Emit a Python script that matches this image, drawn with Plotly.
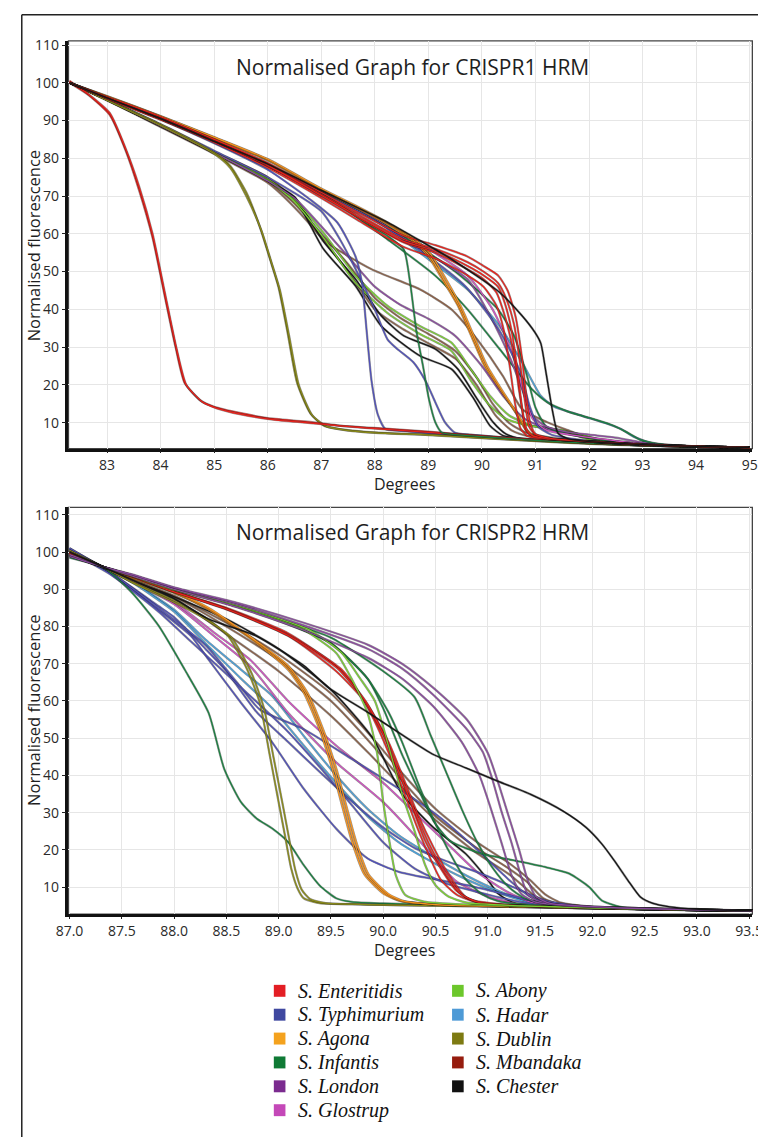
import plotly.graph_objects as go

# Reference canvas is 766x1137. The page places the figure 8px in from the
# top-left corner, so all reference pixel positions are shifted by OFF below.
OFF = 8
FW, FH = 766, 1137

# ---------------- species / colours ----------------
SPECIES = ["S. Enteritidis", "S. Typhimurium", "S. Agona", "S. Infantis", "S. London",
           "S. Glostrup", "S. Abony", "S. Hadar", "S. Dublin", "S. Mbandaka", "S. Chester"]
LEGEND_COLORS = {
    "S. Enteritidis": "#e31e24", "S. Typhimurium": "#3f48a0", "S. Agona": "#f4a21e",
    "S. Infantis": "#0f7a35", "S. London": "#7b2b8f", "S. Glostrup": "#c448b8",
    "S. Abony": "#6cc72b", "S. Hadar": "#4e9ad6", "S. Dublin": "#7d7a12",
    "S. Mbandaka": "#961c0e", "S. Chester": "#111111",
}
LINE_COLORS = {
    "S. Enteritidis": "#e8221c", "S. Typhimurium": "#5050b8", "S. Agona": "#f7931e",
    "S. Infantis": "#1a8040", "S. London": "#8a4a9e", "S. Glostrup": "#d050c0",
    "S. Abony": "#7ad032", "S. Hadar": "#4aa0d8", "S. Dublin": "#8a8a18",
    "S. Mbandaka": "#8a6048", "S. Chester": "#151515",
}
LEGEND_COL1 = ["S. Enteritidis", "S. Typhimurium", "S. Agona", "S. Infantis", "S. London", "S. Glostrup"]
LEGEND_COL2 = ["S. Abony", "S. Hadar", "S. Dublin", "S. Mbandaka", "S. Chester"]

# ---------------- panel 1 : CRISPR1 ----------------
P1_TITLE = "Normalised Graph for CRISPR1 HRM"
P1_XTICKS = [83, 84, 85, 86, 87, 88, 89, 90, 91, 92, 93, 94, 95]
P1_YTICKS = [10, 20, 30, 40, 50, 60, 70, 80, 90, 100, 110]

P1_ENT_EARLY_A = [(82.3,100),(82.65,96.8),(83.05,91.5),(83.35,82),(83.6,71.5),(83.85,59),(84.1,42),(84.28,30),(84.45,20.5),(84.75,15.8),(85.0,14.2),(85.5,12.5),(86.0,11.2),(86.7,10.3),(87.3,9.3),(88.2,8.4),(89.0,7.6),(90.0,6.5),(91.0,5.5),(92.0,4.7),(93.0,4.1),(94.0,3.7),(95.0,3.4)]
P1_ENT_EARLY_B = [(82.3,100.5),(82.65,97),(83.05,92),(83.35,82.5),(83.6,72.5),(83.85,60),(84.1,43),(84.3,29.5),(84.48,20),(84.78,15.5),(85.05,13.8),(85.5,12.2),(86.1,10.8),(86.7,10),(87.3,9.2),(88.2,8.2),(89.0,7.4),(90.0,6.4),(91.0,5.4),(92.0,4.6),(93.0,4.0),(94.0,3.7),(95.0,3.4)]
P1_DUB_A = [(82.3,100),(83.0,95.5),(84.0,89),(85.0,81.5),(85.3,78),(85.6,71),(85.85,62),(86.05,53),(86.2,46),(86.37,34),(86.55,20.5),(86.8,12.4),(87.05,9.2),(87.5,8.0),(88.0,7.4),(89.0,6.8),(90.0,6.0),(91.0,5.2),(92.0,4.5),(93.0,4.0),(94.0,3.6),(95.0,3.4)]
P1_DUB_B = [(82.3,100),(83.0,95.3),(84.0,88.7),(85.0,81.2),(85.3,77.5),(85.6,70),(85.88,61),(86.08,52),(86.23,45),(86.4,33),(86.58,20),(86.83,12),(87.1,9),(87.5,7.9),(88.0,7.3),(89.0,6.7),(90.0,5.9),(91.0,5.1),(92.0,4.4),(93.0,3.9),(94.0,3.6),(95.0,3.4)]
P1_TYP_A = [(82.3,100),(83.0,96),(84.0,90.3),(85.0,84),(86.0,77),(86.8,69),(87.3,63),(87.64,54),(87.76,47),(87.85,34),(87.94,21),(88.06,12),(88.2,8.3),(88.5,7.8),(89.0,7.2),(90.0,6.2),(91.0,5.3),(92.0,4.6),(93.0,4.0),(94.0,3.6),(95.0,3.4)]
P1_TYP_B = [(82.3,100),(83.0,95.5),(84.0,89),(85.0,82),(86.0,75),(87.0,66),(87.35,58.5),(87.7,49),(88.0,40),(88.24,32),(88.42,29.5),(88.72,26),(88.96,20.7),(89.13,15.4),(89.31,10.1),(89.49,7.4),(89.8,6.8),(90.5,6.0),(91.5,5.0),(92.5,4.3),(93.5,3.8),(95.0,3.4)]
P1_TYP_C = [(82.3,100),(83.0,96),(84.0,90.5),(85.0,84.5),(86.0,78),(87.0,71),(88.0,63.5),(89.0,54),(89.7,46),(90.3,35),(90.7,24),(90.9,14),(91.05,9),(91.3,6.8),(92.0,5.2),(93.0,4.2),(94.0,3.7),(95.0,3.4)]
P1_INF_STEEP = [(82.3,100),(83.0,96),(84.0,90.5),(85.0,84.5),(86.0,78),(87.0,70.5),(87.94,62),(88.24,59.4),(88.54,55.9),(88.66,47),(88.78,34),(88.9,25),(89.01,16.3),(89.13,10.1),(89.25,7.4),(89.5,6.8),(90.0,6.3),(91.0,5.3),(92.0,4.6),(93.0,4.0),(94.0,3.6),(95.0,3.4)]
P1_AGO_A = [(82.3,100),(83.0,96.3),(84.0,91),(85.0,85.3),(86.0,79.5),(87.0,71.5),(87.64,67),(88.24,62.5),(88.72,58),(89.0,54),(89.3,47),(89.55,41),(89.8,33),(90.05,25),(90.33,19),(90.63,12.7),(90.81,8.3),(90.93,6.6),(91.2,5.8),(92.0,5.0),(93.0,4.2),(94.0,3.7),(95.0,3.4)]
P1_AGO_B = [(82.3,100),(83.0,96.5),(84.0,91.2),(85.0,85.6),(86.0,79.8),(87.0,72),(87.64,67.5),(88.24,63),(88.75,58.5),(89.05,54.5),(89.35,47.5),(89.6,41),(89.85,33),(90.1,25),(90.38,18.5),(90.68,12),(90.85,8),(90.97,6.5),(91.2,5.8),(92.0,5.0),(93.0,4.2),(94.0,3.7),(95.0,3.4)]
P1_AGO_C = [(82.3,100),(83.0,96.4),(84.0,91.1),(85.0,85.5),(86.0,79.6),(87.0,71.8),(87.64,67.2),(88.24,62.8),(88.73,58.2),(89.02,54.2),(89.32,47.2),(89.57,41),(89.82,33),(90.07,25),(90.35,18.7),(90.65,12.3),(90.83,8.1),(90.95,6.5),(91.2,5.8),(92.0,5.0),(93.0,4.2),(94.0,3.7),(95.0,3.4)]
P1_ENT_A = [(82.3,100),(83.0,96),(84.0,90.5),(85.0,84.5),(86.0,78),(87.0,70),(87.64,64.7),(88.54,57.7),(89.13,55),(89.73,50.6),(90.03,48),(90.27,44.5),(90.39,40),(90.51,33.9),(90.63,25.1),(90.69,18.9),(90.75,13.6),(90.81,8.3),(90.9,6.8),(91.2,5.8),(92.0,5.0),(93.0,4.2),(94.0,3.7),(95.0,3.4)]
P1_ENT_B = [(82.3,100),(83.0,96.2),(84.0,90.8),(85.0,84.8),(86.0,78.5),(87.0,70.5),(87.64,65.5),(88.54,58.5),(89.13,56),(89.73,52.5),(90.03,50),(90.3,47),(90.45,43),(90.6,36),(90.72,25),(90.8,16),(90.88,9),(91.0,6.8),(91.3,5.7),(92.0,5.0),(93.0,4.2),(94.0,3.7),(95.0,3.4)]
P1_ENT_C = [(82.3,100),(83.0,95.8),(84.0,90.2),(85.0,84.2),(86.0,77.5),(87.0,69.5),(87.64,64),(88.54,56.5),(89.13,53.5),(89.73,49),(90.03,46),(90.27,41),(90.4,35),(90.52,25),(90.62,15),(90.72,8.5),(90.85,6.5),(91.2,5.7),(92.0,5.0),(93.0,4.2),(94.0,3.7),(95.0,3.4)]
P1_ENT_D = [(82.3,100),(83.0,96.1),(84.0,90.6),(85.0,84.6),(86.0,78.2),(87.0,70.2),(87.64,65),(88.54,58),(89.13,55.5),(89.73,51.5),(90.03,49),(90.3,46),(90.42,42),(90.56,34),(90.68,22),(90.76,13),(90.84,8),(90.95,6.5),(91.3,5.7),(92.0,5.0),(93.0,4.2),(94.0,3.7),(95.0,3.4)]
P1_ENT_E = [(82.3,100),(83.0,96.3),(84.0,91),(85.0,85),(86.0,78.8),(87.0,71),(87.64,66),(88.54,59.5),(89.13,57),(89.73,54),(90.03,51.5),(90.3,49),(90.48,45),(90.63,38),(90.75,27),(90.83,17),(90.9,10),(91.0,7),(91.3,5.8),(92.0,5.0),(93.0,4.2),(94.0,3.7),(95.0,3.4)]
P1_CHE_A = [(82.3,100),(83.0,96),(84.0,90.5),(85.0,84.5),(86.0,78.5),(87.0,71.5),(88.24,63),(89.43,53.3),(90.33,44.5),(90.75,38.3),(90.99,33.9),(91.1,31),(91.2,23),(91.32,13),(91.42,7.2),(91.6,5.8),(92.0,5.0),(93.0,4.2),(94.0,3.7),(95.0,3.4)]
P1_CHE_B = [(82.3,100),(83.0,95.5),(84.0,88.5),(85.0,81.5),(86.0,74),(86.5,69.5),(87.04,56),(87.64,46.2),(88.12,35.6),(88.84,27.7),(89.43,24.2),(89.85,16.3),(90.15,9.2),(90.39,6.6),(90.7,5.8),(91.2,5.3),(92.0,4.6),(93.0,4.0),(94.0,3.6),(95.0,3.4)]
P1_CHE_C = [(82.3,100),(83.0,95.5),(84.0,88.6),(85.0,81.6),(86.0,74.2),(86.5,69.8),(87.04,58),(87.64,48),(88.12,38.3),(88.54,33),(89.13,29.5),(89.55,24.2),(89.91,16.3),(90.21,10.1),(90.45,7),(90.75,5.7),(91.2,5.3),(92.0,4.6),(93.0,4.0),(94.0,3.6),(95.0,3.4)]
P1_MBA_A = [(82.3,100),(83.0,95.6),(84.0,88.8),(85.0,81.8),(86.0,75),(86.5,69),(87.04,58.5),(87.94,50.6),(88.84,45.3),(89.43,40),(89.91,32.1),(90.39,22.4),(90.75,13.6),(91.22,10.1),(91.6,8),(92.0,6),(92.5,5),(93.0,4.3),(94.0,3.7),(95.0,3.4)]
P1_MBA_B = [(82.3,100),(83.0,95.5),(84.0,88.5),(85.0,81.5),(86.0,74),(86.5,68),(87.0,60),(87.5,52),(88.0,43),(88.5,37.5),(89.0,33.5),(89.5,29),(89.9,22),(90.2,15),(90.5,10),(90.8,7.5),(91.3,6),(92.0,5),(93.0,4.2),(94.0,3.6),(95.0,3.4)]
P1_MBA_C = [(82.3,100),(83.0,95.4),(84.0,88.3),(85.0,81.2),(86.0,73.5),(86.5,67),(87.0,59),(87.5,50),(88.0,40),(88.5,35),(89.0,31),(89.5,27),(89.9,20),(90.25,12),(90.55,8),(90.9,6.3),(92.0,4.8),(93.0,4.1),(94.0,3.6),(95.0,3.4)]
P1_ABO_A = [(82.3,100),(83.0,95.5),(84.0,88.7),(85.0,81.7),(86.0,74.5),(86.5,69),(87.04,60.3),(87.64,48.9),(88.24,40.9),(88.84,35.6),(89.43,31.2),(89.79,24.2),(90.15,17.1),(90.51,11.9),(90.93,9.2),(91.34,8.3),(91.8,7),(92.2,5.5),(93.0,4.3),(94.0,3.7),(95.0,3.4)]
P1_ABO_B = [(82.3,100),(83.0,95.5),(84.0,88.6),(85.0,81.5),(86.0,74.2),(86.5,68.5),(87.04,59),(87.64,47),(88.24,39),(88.84,33.5),(89.43,29),(89.8,21),(90.15,14.5),(90.45,11),(90.96,9),(91.5,8),(92.0,5.5),(93.0,4.3),(94.0,3.7),(95.0,3.4)]
P1_HAD = [(82.3,100),(83.0,96),(84.0,90.5),(85.0,84.5),(86.0,78),(87.0,71.5),(88.0,64),(88.84,55),(89.73,45.3),(90.33,35.6),(90.75,26),(91.1,17.1),(91.34,14.3),(91.87,11.8),(92.34,9.7),(92.6,8.3),(92.83,6.3),(93.2,4.5),(94.0,3.7),(95.0,3.4)]
P1_INF_A = [(82.3,100),(83.0,96),(84.0,90.5),(85.0,84.5),(86.0,78),(87.0,71),(88.24,58.5),(89.13,48.9),(89.73,40),(90.33,29.5),(90.93,18.9),(91.22,15.4),(91.6,13),(92.0,11.3),(92.4,9.5),(92.7,7.5),(92.95,5.5),(93.3,4.4),(94.0,3.7),(95.0,3.4)]
P1_INF_B = [(82.3,100),(83.0,96),(84.0,90.6),(85.0,84.6),(86.0,78.2),(87.0,71.5),(88.0,64),(89.0,55),(89.5,50),(90.0,44),(90.3,40),(90.6,33),(90.85,22),(91.0,14),(91.2,9),(91.6,7),(92.2,5.5),(93.0,4.3),(94.0,3.7),(95.0,3.4)]
P1_LON_A = [(82.3,100),(83.0,96),(84.0,90.5),(85.0,84.5),(86.0,78),(87.0,71.5),(88.0,64),(88.84,56),(89.73,48),(90.15,38.3),(90.51,27.7),(90.75,18.9),(90.93,11.9),(91.2,9),(91.6,7.5),(92.0,6.8),(92.5,6),(92.9,5),(93.2,4.3),(94.0,3.7),(95.0,3.4)]
P1_LON_B = [(82.3,100),(83.0,95.5),(84.0,88.6),(85.0,81.5),(86.0,74),(86.5,69.5),(87.0,62),(87.5,54),(88.0,46),(88.5,41),(89.0,37.5),(89.5,33),(90.0,25),(90.4,17),(90.8,11),(91.3,8),(92.0,6),(93.0,4.3),(94.0,3.7),(95.0,3.4)]
P1_GLO = [(82.3,100),(83.0,96),(84.0,90.5),(85.0,84.5),(86.0,78),(87.0,71.5),(88.0,64.5),(89.0,56),(89.73,49),(90.2,40),(90.55,29),(90.78,18),(90.95,11),(91.2,8),(91.8,6.5),(92.5,5.2),(93.0,4.4),(94.0,3.7),(95.0,3.4)]

P1_CURVES = [
    ("S. Mbandaka", P1_MBA_A), ("S. Mbandaka", P1_MBA_B), ("S. Mbandaka", P1_MBA_C),
    ("S. Chester", P1_CHE_B), ("S. Chester", P1_CHE_C),
    ("S. Abony", P1_ABO_A), ("S. Abony", P1_ABO_B), ("S. London", P1_LON_B),
    ("S. Typhimurium", P1_TYP_B), ("S. Typhimurium", P1_TYP_A),
    ("S. Dublin", P1_DUB_A), ("S. Dublin", P1_DUB_B),
    ("S. Enteritidis", P1_ENT_EARLY_A), ("S. Enteritidis", P1_ENT_EARLY_B),
    ("S. Infantis", P1_INF_STEEP), ("S. Hadar", P1_HAD),
    ("S. Infantis", P1_INF_A), ("S. Infantis", P1_INF_B),
    ("S. London", P1_LON_A), ("S. Glostrup", P1_GLO), ("S. Typhimurium", P1_TYP_C),
    ("S. Agona", P1_AGO_A), ("S. Agona", P1_AGO_C), ("S. Agona", P1_AGO_B),
    ("S. Enteritidis", P1_ENT_A), ("S. Enteritidis", P1_ENT_B), ("S. Enteritidis", P1_ENT_C),
    ("S. Enteritidis", P1_ENT_D), ("S. Enteritidis", P1_ENT_E),
    ("S. Chester", P1_CHE_A),
]

# ---------------- panel 2 : CRISPR2 ----------------
P2_TITLE = "Normalised Graph for CRISPR2 HRM"
P2_XTICKS = [87.0, 87.5, 88.0, 88.5, 89.0, 89.5, 90.0, 90.5, 91.0, 91.5, 92.0, 92.5, 93.0, 93.5]
P2_YTICKS = [10, 20, 30, 40, 50, 60, 70, 80, 90, 100, 110]

P2_INF_EARLY = [(87.0,98.5),(87.2,97),(87.36,95.2),(87.6,89),(87.85,80.3),(88.1,68.5),(88.33,56.8),(88.48,41.7),(88.64,32.8),(88.79,28.4),(88.94,25.7),(89.09,22.1),(89.24,15.9),(89.39,10.5),(89.55,7.0),(89.7,6.0),(90.0,5.6),(90.5,5.3),(91.0,5.0),(91.5,4.6),(92.0,4.3),(92.5,4.0),(93.0,3.8),(93.6,3.6)]
P2_DUB_A = [(87.0,100.5),(87.32,96),(87.6,92),(88.0,87),(88.33,81.8),(88.52,77.3),(88.7,68.4),(88.82,59.5),(88.91,46.2),(89.0,32.8),(89.06,23.9),(89.12,15),(89.18,9.7),(89.24,7.0),(89.39,5.7),(89.7,5.4),(90.0,5.2),(90.5,5.0),(91.0,4.8),(92.0,4.3),(93.0,3.8),(93.6,3.6)]
P2_DUB_B = [(87.0,100),(87.32,96),(87.6,91.8),(88.0,86.5),(88.33,81.5),(88.55,77),(88.74,67.5),(88.86,58),(88.95,45),(89.04,32),(89.1,23),(89.16,14.5),(89.22,9.3),(89.3,6.8),(89.45,5.7),(89.7,5.4),(90.0,5.2),(90.5,5.0),(91.0,4.8),(92.0,4.3),(93.0,3.8),(93.6,3.6)]
P2_TYP_A = [(87.0,101),(87.39,94.3),(87.85,84.5),(88.16,77.5),(88.33,71.1),(88.64,59.5),(88.94,48.8),(89.24,36.4),(89.55,25.7),(89.85,17.7),(90.15,14.1),(90.45,12.3),(90.8,10.5),(91.1,8.5),(91.4,6.5),(91.7,5.0),(92.2,4.3),(93.0,3.8),(93.6,3.6)]
P2_TYP_B = [(87.0,100.5),(87.39,94.5),(87.85,85.5),(88.0,82.5),(88.3,74),(88.5,68),(88.79,57),(89.09,49),(89.39,41),(89.7,33),(90.0,26),(90.3,20.5),(90.6,17),(90.9,14),(91.2,10.5),(91.45,7.5),(91.6,6),(92.0,4.6),(93.0,3.8),(93.6,3.6)]
P2_TYP_C = [(87.0,101),(87.39,94.5),(87.85,85),(88.3,75),(88.6,65),(88.82,57.7),(89.24,52.4),(89.7,44.4),(90.15,36.4),(90.52,29.2),(90.9,20),(91.2,12),(91.4,7.5),(91.6,5.5),(92.0,4.5),(93.0,3.8),(93.6,3.6)]
P2_TYP_D = [(87.0,100),(87.39,94),(87.85,84),(88.16,76),(88.47,68),(88.78,60),(89.08,52),(89.4,42),(89.7,32),(90.0,22),(90.3,15),(90.6,11),(91.0,8),(91.3,6),(91.6,4.8),(92.0,4.4),(93.0,3.8),(93.6,3.6)]
P2_AGO_A = [(87.0,99.5),(87.32,96),(87.6,93),(88.0,89),(88.33,84.5),(88.79,75.5),(89.09,68.4),(89.24,62.2),(89.39,52.4),(89.52,41),(89.61,31.5),(89.7,22.3),(89.82,13.4),(90.01,8.1),(90.17,6.2),(90.5,5.3),(91.0,4.9),(92.0,4.3),(93.0,3.8),(93.6,3.6)]
P2_AGO_B = [(87.0,100),(87.32,96),(87.6,93.2),(88.0,89.3),(88.33,85),(88.79,76),(89.09,69.5),(89.28,62),(89.43,52),(89.56,41),(89.65,31.5),(89.74,22.3),(89.86,13.4),(90.05,8.1),(90.2,6.2),(90.5,5.3),(91.0,4.9),(92.0,4.3),(93.0,3.8),(93.6,3.6)]
P2_AGO_C = [(87.0,99.8),(87.32,96),(87.6,93.1),(88.0,89.1),(88.33,84.7),(88.79,75.8),(89.09,69),(89.26,62.1),(89.41,52.2),(89.54,41),(89.63,31.5),(89.72,22.3),(89.84,13.4),(90.03,8.1),(90.18,6.2),(90.5,5.3),(91.0,4.9),(92.0,4.3),(93.0,3.8),(93.6,3.6)]
P2_ABO_A = [(87.0,99),(87.32,96),(87.6,93.5),(88.0,89.8),(88.5,86.2),(89.0,81.8),(89.24,79.1),(89.55,72.9),(89.7,65.8),(89.85,56.8),(89.94,46.2),(90.0,32.8),(90.06,22.1),(90.12,13.2),(90.21,7.9),(90.39,6.1),(90.8,5.3),(91.5,4.8),(92.5,4.1),(93.6,3.6)]
P2_ABO_B = [(87.0,99.2),(87.32,96),(87.6,93.6),(88.0,90),(88.5,86.5),(89.0,82.2),(89.3,79),(89.6,73),(89.78,66),(89.92,60),(90.05,48),(90.18,35),(90.3,25),(90.4,16),(90.5,10.5),(90.62,7.5),(90.8,5.8),(91.5,4.8),(92.5,4.1),(93.6,3.6)]
P2_ENT_A = [(87.0,99.5),(87.32,96),(87.6,93.5),(88.0,89.5),(88.5,85),(89.09,78.2),(89.55,69.3),(89.79,61.3),(89.94,53.3),(90.09,43.5),(90.21,34.6),(90.33,25.7),(90.45,17.7),(90.55,12),(90.7,8),(90.9,5.8),(91.3,5.0),(92.0,4.4),(93.0,3.8),(93.6,3.6)]
P2_ENT_B = [(87.0,99.7),(87.32,96),(87.6,93.4),(88.0,89.3),(88.5,84.6),(89.09,77.5),(89.55,68),(89.85,59),(90.05,49),(90.18,40.2),(90.33,29.6),(90.48,20.7),(90.64,12.7),(90.79,7.3),(90.95,5.6),(91.3,5.0),(92.0,4.4),(93.0,3.8),(93.6,3.6)]
P2_ENT_C = [(87.0,99.6),(87.32,96),(87.6,93.5),(88.0,89.4),(88.5,84.8),(89.09,77.8),(89.6,68.5),(89.82,60),(90.0,51),(90.13,42),(90.27,32),(90.4,22.5),(90.55,15),(90.7,9),(90.85,6.5),(91.3,5.0),(92.0,4.4),(93.0,3.8),(93.6,3.6)]
P2_ENT_D = [(87.0,99.5),(87.32,96),(87.6,93.4),(88.0,89.3),(88.5,84.7),(89.09,77.6),(89.57,68.6),(89.83,60),(90.02,50),(90.15,41),(90.3,30.5),(90.44,21.5),(90.6,13.5),(90.75,8),(90.92,5.8),(91.3,5.0),(92.0,4.4),(93.0,3.8),(93.6,3.6)]
P2_LON_A = [(87.0,99),(87.32,96),(87.6,93.8),(88.0,90.3),(88.62,85.8),(89.24,80.3),(89.86,73.9),(90.18,68.7),(90.48,61.6),(90.79,52.7),(90.95,46.4),(91.04,39.3),(91.13,30.4),(91.23,21.6),(91.32,12.7),(91.38,8.2),(91.47,6.4),(91.7,5.2),(92.2,4.5),(93.0,3.9),(93.6,3.6)]
P2_LON_B = [(87.0,99.3),(87.32,96),(87.6,93.6),(88.0,90),(88.62,85),(89.24,79),(89.86,71.5),(90.18,66),(90.48,58.5),(90.75,49),(90.92,40),(91.03,31),(91.13,22),(91.23,13),(91.32,8.2),(91.45,6),(91.7,5.1),(92.2,4.5),(93.0,3.9),(93.6,3.6)]
P2_LON_C = [(87.0,98.8),(87.32,96),(87.6,94),(88.0,90.5),(88.62,86.2),(89.24,81),(89.86,75),(90.18,70),(90.48,63.5),(90.8,55),(91.0,46),(91.1,38),(91.2,29),(91.3,20),(91.38,12),(91.46,7.5),(91.6,5.6),(92.2,4.5),(93.0,3.9),(93.6,3.6)]
P2_CHE_A = [(87.0,100),(87.32,96),(87.6,92.5),(88.0,87.5),(88.33,82),(88.78,77.5),(89.24,69.5),(89.48,63.5),(89.85,57),(90.18,50.9),(90.48,45.6),(90.79,42),(91.1,38.4),(91.41,34.9),(91.72,30.4),(91.94,26),(92.09,21.6),(92.21,17.1),(92.34,11.8),(92.46,7.3),(92.58,5.6),(92.74,4.7),(93.0,4.1),(93.6,3.6)]
P2_CHE_B = [(87.0,100),(87.32,96),(87.6,92.3),(88.0,88),(88.5,82),(89.0,74),(89.5,63),(89.9,50),(90.18,35),(90.48,26),(90.79,18.9),(90.98,12.7),(91.1,8.2),(91.26,5.6),(91.6,4.7),(92.5,4.1),(93.6,3.6)]
P2_MBA_A = [(87.0,100),(87.32,96),(87.6,92.5),(88.0,88),(88.5,80),(89.0,71),(89.5,60),(89.9,48),(90.2,38),(90.5,29),(90.9,20.4),(91.2,15),(91.37,11.5),(91.53,7),(91.7,5.4),(92.0,4.6),(93.0,3.9),(93.6,3.6)]
P2_MBA_B = [(87.0,100.2),(87.32,96),(87.6,92.6),(88.0,88.3),(88.5,81),(89.0,72.5),(89.5,62),(89.9,50),(90.2,40),(90.5,31),(90.9,22),(91.2,16.5),(91.4,12),(91.55,8),(91.7,5.8),(92.0,4.7),(93.0,3.9),(93.6,3.6)]
P2_MBA_C = [(87.0,100.4),(87.32,96),(87.6,92.2),(88.0,87.5),(88.5,78),(89.0,68),(89.5,56),(89.86,46),(90.17,37),(90.5,28),(90.9,19),(91.2,13.5),(91.35,10),(91.5,6.5),(91.7,5.2),(92.0,4.6),(93.0,3.9),(93.6,3.6)]
P2_INF_B = [(87.0,99),(87.32,96),(87.6,93.7),(88.0,90.2),(88.5,86.3),(89.0,81.8),(89.5,75.5),(89.85,66),(90.0,58),(90.18,45.6),(90.33,36.7),(90.48,27.8),(90.64,22.4),(90.95,18.9),(91.26,17.1),(91.56,15.3),(91.78,13.6),(91.97,10),(92.09,6.4),(92.27,4.7),(92.6,4.2),(93.6,3.6)]
P2_INF_C = [(87.0,99),(87.32,96),(87.6,93.7),(88.0,90.1),(88.5,86.2),(89.0,81.5),(89.5,75.5),(89.85,66),(90.05,57),(90.18,49),(90.36,36),(90.5,27),(90.64,19),(90.79,12),(90.95,8),(91.1,6.2),(91.4,5.2),(92.0,4.5),(93.0,3.9),(93.6,3.6)]
P2_INF_D = [(87.0,99.1),(87.32,96),(87.6,93.8),(88.0,90.3),(88.5,86.5),(89.0,82),(89.5,77),(90.0,68),(90.3,61),(90.45,51),(90.6,41),(90.75,31),(90.9,22),(91.05,15),(91.2,10),(91.35,7),(91.6,5.3),(92.0,4.6),(93.0,3.9),(93.6,3.6)]
P2_GLO_A = [(87.0,100.5),(87.32,96),(87.6,92),(88.0,86),(88.4,77),(88.73,69.3),(89.09,56.8),(89.55,43.5),(90.0,32.8),(90.3,23.9),(90.52,16.8),(90.7,11.5),(91.0,7.5),(91.3,5.4),(91.7,4.7),(92.5,4.1),(93.6,3.6)]
P2_GLO_B = [(87.0,100.2),(87.32,96),(87.6,92.2),(88.0,86.5),(88.4,78),(88.73,71),(89.09,60),(89.55,48),(90.0,38),(90.3,30),(90.6,22),(90.9,14),(91.2,8.5),(91.45,5.6),(91.8,4.7),(92.5,4.1),(93.6,3.6)]
P2_HAD_A = [(87.0,100.5),(87.32,96),(87.6,92),(88.0,84.5),(88.3,76.5),(88.64,68.4),(88.94,61.3),(89.24,50.6),(89.55,40),(89.85,31),(90.15,23.9),(90.45,18.6),(90.8,13),(91.1,9),(91.4,6),(91.7,4.8),(92.2,4.3),(93.0,3.8),(93.6,3.6)]
P2_HAD_B = [(87.0,100.8),(87.32,96),(87.6,91.8),(88.0,84),(88.3,75.5),(88.64,66),(88.94,58),(89.24,48),(89.55,38),(89.85,29),(90.15,22),(90.45,17),(90.8,12),(91.1,8.5),(91.4,5.8),(91.7,4.8),(92.2,4.3),(93.0,3.8),(93.6,3.6)]

P2_CURVES = [
    ("S. Mbandaka", P2_MBA_A), ("S. Mbandaka", P2_MBA_B), ("S. Mbandaka", P2_MBA_C),
    ("S. Chester", P2_CHE_B),
    ("S. Hadar", P2_HAD_A), ("S. Hadar", P2_HAD_B),
    ("S. Glostrup", P2_GLO_A), ("S. Glostrup", P2_GLO_B),
    ("S. Typhimurium", P2_TYP_A), ("S. Typhimurium", P2_TYP_B),
    ("S. Typhimurium", P2_TYP_C), ("S. Typhimurium", P2_TYP_D),
    ("S. Infantis", P2_INF_EARLY),
    ("S. Dublin", P2_DUB_A), ("S. Dublin", P2_DUB_B),
    ("S. Agona", P2_AGO_A), ("S. Agona", P2_AGO_C), ("S. Agona", P2_AGO_B),
    ("S. Infantis", P2_INF_B), ("S. Infantis", P2_INF_C), ("S. Infantis", P2_INF_D),
    ("S. Enteritidis", P2_ENT_A), ("S. Enteritidis", P2_ENT_B), ("S. Enteritidis", P2_ENT_C),
    ("S. Enteritidis", P2_ENT_D),
    ("S. Abony", P2_ABO_A), ("S. Abony", P2_ABO_B),
    ("S. London", P2_LON_A), ("S. London", P2_LON_B), ("S. London", P2_LON_C),
    ("S. Chester", P2_CHE_A),
]

# ---------------- helpers (reference pixel -> paper) ----------------
def fx(px):
    return (px - OFF) / FW


def fy(py):
    return 1 - (py - OFF) / FH


FONT = "Open Sans, Noto Sans, DejaVu Sans, sans-serif"

fig = go.Figure()


def add_curves(curves, xa, ya):
    for sp, pts in curves:
        xs = [p[0] for p in pts]
        ys = [p[1] for p in pts]
        fig.add_trace(go.Scatter(
            x=xs, y=ys, mode="lines", xaxis=xa, yaxis=ya, hoverinfo="skip", showlegend=False,
            line=dict(color="rgba(25,25,25,0.45)", width=2.3, shape="spline", smoothing=0.6)))
        fig.add_trace(go.Scatter(
            x=xs, y=ys, mode="lines", xaxis=xa, yaxis=ya, name=sp, showlegend=False,
            line=dict(color=LINE_COLORS[sp], width=1.25, shape="spline", smoothing=0.6)))


add_curves(P1_CURVES, "x", "y")
add_curves(P2_CURVES, "x2", "y2")

axis_common = dict(
    showline=True, linewidth=2.5, linecolor="#111", mirror=False,
    showgrid=True, gridcolor="#e6e6e6", gridwidth=1, zeroline=False,
    tickfont=dict(family=FONT, size=14, color="#2a2a2a"),
)
xtick_style = dict(ticks="outside", ticklen=2, tickwidth=1.2, tickcolor="#222")
ytick_style = dict(ticks="outside", ticklen=4, tickwidth=1.3, tickcolor="#222")

P_DOM_X = [fx(57), fx(763)]
P1_DOM_Y = [fy(445), fy(35)]
P2_DOM_Y = [fy(913), fy(504)]

fig.update_layout(
    width=FW, height=FH, autosize=False,
    margin=dict(l=0, r=0, t=0, b=0, pad=0),
    paper_bgcolor="white", plot_bgcolor="white",
    showlegend=False,
    xaxis=dict(axis_common, **xtick_style, domain=P_DOM_X, range=[82.28, 95.05], anchor="y",
               tickmode="array", tickvals=P1_XTICKS, ticktext=[str(t) for t in P1_XTICKS]),
    yaxis=dict(axis_common, **ytick_style, domain=P1_DOM_Y, range=[3.1, 111.1], anchor="x",
               tickmode="array", tickvals=P1_YTICKS),
    xaxis2=dict(axis_common, **xtick_style, domain=P_DOM_X, range=[86.99, 93.53], anchor="y2",
                tickmode="array", tickvals=P2_XTICKS, ticktext=["%.1f" % t for t in P2_XTICKS]),
    yaxis2=dict(axis_common, **ytick_style, domain=P2_DOM_Y, range=[2.7, 112.0], anchor="x2",
                tickmode="array", tickvals=P2_YTICKS),
)

shapes = []
# thin frame on top/right of each plot area
for (y0p, y1p) in ((445, 35), (913, 504)):
    shapes.append(dict(type="rect", xref="paper", yref="paper",
                       x0=fx(57), x1=fx(763), y0=fy(y0p), y1=fy(y1p),
                       line=dict(color="#444", width=1.3), layer="below"))
# outer image frame (top and left edges)
shapes.append(dict(type="line", xref="paper", yref="paper", x0=fx(8.8), x1=1.0, y0=fy(8.8), y1=fy(8.8),
                   line=dict(color="#222", width=1.5)))
shapes.append(dict(type="line", xref="paper", yref="paper", x0=fx(8.8), x1=fx(8.8), y0=fy(8.8), y1=0,
                   line=dict(color="#222", width=1.5)))

annotations = []
# titles
for txt, yc in ((P1_TITLE, 61), (P2_TITLE, 529)):
    annotations.append(dict(text=txt, x=fx(412), y=fy(yc), xref="paper", yref="paper",
                            xanchor="center", yanchor="middle", showarrow=False,
                            font=dict(family=FONT, size=21, color="#1e1e1e")))
# axis titles
for yc in (480, 949):
    annotations.append(dict(text="Degrees", x=fx(404), y=fy(yc), xref="paper", yref="paper",
                            xanchor="center", yanchor="middle", showarrow=False,
                            font=dict(family=FONT, size=16, color="#1e1e1e")))
for yc in (241, 708):
    annotations.append(dict(text="Normalised fluorescence", x=fx(21), y=fy(yc), xref="paper",
                            yref="paper", xanchor="center", yanchor="middle", textangle=-90,
                            showarrow=False, font=dict(family=FONT, size=16.5, color="#1e1e1e")))

# legend (manual, two columns)
ROW0, ROWSTEP = 990, 24
for names, sq_x in ((LEGEND_COL1, 275), (LEGEND_COL2, 459)):
    for i, sp in enumerate(names):
        yc = ROW0 + ROWSTEP * i
        shapes.append(dict(type="rect", xref="paper", yref="paper",
                           x0=fx(sq_x - 6), x1=fx(sq_x + 6), y0=fy(yc + 6), y1=fy(yc - 6),
                           fillcolor=LEGEND_COLORS[sp], line=dict(width=0)))
        annotations.append(dict(text="<i>%s</i>" % sp, x=fx(sq_x + 17), y=fy(yc),
                                xref="paper", yref="paper", xanchor="left", yanchor="middle",
                                showarrow=False,
                                font=dict(family="Liberation Serif, Times New Roman, serif",
                                          size=20, color="#111")))

fig.update_layout(shapes=shapes, annotations=annotations)

fig.write_html("out.html")
